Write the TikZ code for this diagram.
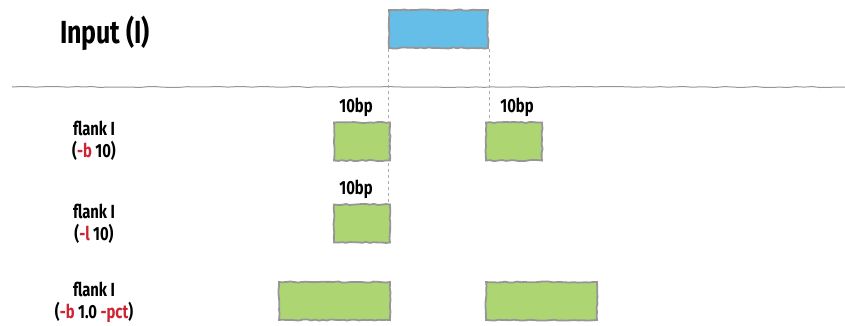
\documentclass[tikz,border=0pt]{standalone}
\usepackage{fontspec}
\usepackage{xcolor}
\usetikzlibrary{positioning,decorations.pathmorphing}
\newfontfamily\handfont[FakeStretch=0.78]{Fira Sans}
\definecolor{inblue}{RGB}{100, 190, 232}
\definecolor{flgreen}{RGB}{173, 214, 115}
\definecolor{edgegray}{RGB}{150, 150, 150}
\definecolor{optred}{RGB}{205, 35, 50}
\tikzset{
 sketch/.style={
 decorate,
 decoration={random steps, segment length=4pt, amplitude=0.6pt}
 },
 seg/.style={
 rectangle,
 draw=edgegray,
 line width=1.8pt,
 minimum height=38,
 inner sep=0pt,
 sketch
 },
 inseg/.style={seg, fill=inblue},
 flseg/.style={seg, fill=flgreen},
 bplabel/.style={font=\handfont\bfseries\fontsize{19}{21}\selectfont, inner sep=1pt},
 rowlabel/.style={align=center, font=\handfont\bfseries\fontsize{19}{22}\selectfont},
 guide/.style={draw=edgegray!80, dashed, line width=0.8pt}
}
\newcommand{\opt}[1]{\textcolor{optred}{#1}}

\begin{document}
\begin{tikzpicture}[x=1pt, y=-1pt]
 \useasboundingbox (0,0) rectangle (845,325);

 % input track
 \node[font=\handfont\bfseries\fontsize{32}{36}\selectfont] (intitle) at (105,33) {Input (I)};
 \node[inseg, minimum width=99] (input) at (438.5,29) {};

 \coordinate (ruleL) at (12,87);
 \coordinate (ruleR) at (845,87);
 \draw[edgegray, line width=1pt, decorate, decoration={random steps, segment length=8pt, amplitude=0.5pt}] (ruleL) -- (ruleR);

 % flank -b 10
 \node[rowlabel] (lab1) at (94,141) {flank I\\(\opt{-b} 10)};
 \node[flseg, minimum width=56] (fl1a) at (362,141.5) {};
 \node[flseg, minimum width=56] (fl1b) at (514,141.5) {};

 % flank -l 10
 \node[rowlabel] (lab2) at (94,224) {flank I\\(\opt{-l} 10)};
 \node[flseg, minimum width=56] (fl2a) at (362,223.5) {};

 % flank -b 1.0 -pct
 \node[rowlabel] (lab3) at (94,302) {flank I\\(\opt{-b} 1.0 \opt{-pct})};
 \node[flseg, minimum width=111] (fl3a) at (334.5,301) {};
 \node[flseg, minimum width=111] (fl3b) at (541.5,301) {};

 \node[bplabel, above=4pt of fl1a, xshift=-6pt] (bp1a) {10bp};
 \node[bplabel, above=4pt of fl1b, xshift=3pt] (bp1b) {10bp};
 \node[bplabel, above=4pt of fl2a, xshift=-6pt] (bp2a) {10bp};

 \draw[guide] (input.south west) -- (input.south west |- fl2a.north);
 \draw[guide] (input.south east) -- (input.south east |- fl1b.north);
\end{tikzpicture}
\end{document}
